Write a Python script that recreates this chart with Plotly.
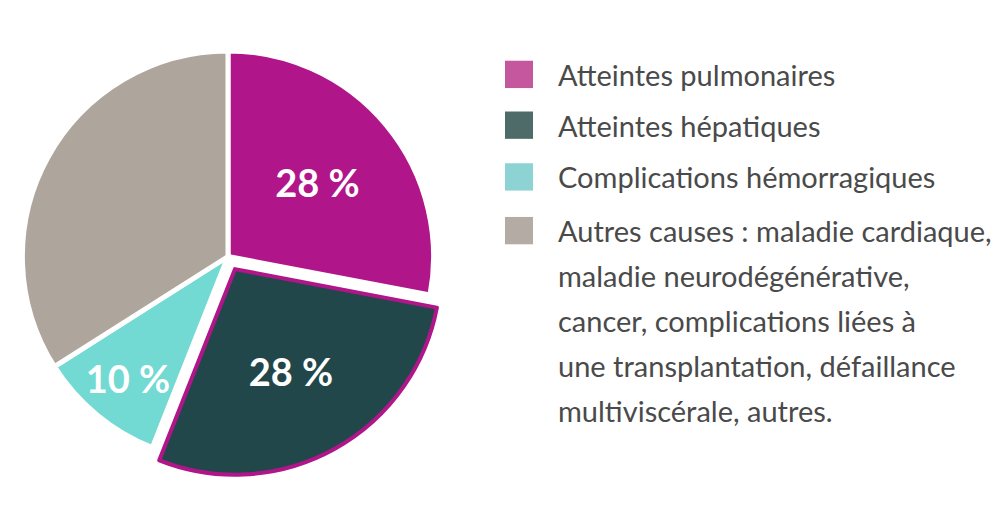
import plotly.graph_objects as go

labels = ["Atteintes pulmonaires", "Atteintes hépatiques", "Complications hémorragiques",
          "Autres causes : maladie cardiaque,"]
extra_lines = ["maladie neurodégénérative,", "cancer, complications liées à",
               "une transplantation, défaillance", "multiviscérale, autres."]
values = [28, 28, 10, 34]
slice_text = ["<b>28 %</b>", "<b>28 %</b>", "<b>10 %</b>", ""]
pie_colors = ["#B0168A", "#22474A", "#72D9D3", "#AEA59D"]
legend_colors = ["#C4579E", "#4E6B69", "#8ED3D3", "#B3ABA4"]
line_colors = ["white", "#B0168A", "white", "white"]
line_widths = [5, 4, 5, 5]
pulls = [0, 0.07, 0, 0]

fig = go.Figure(go.Pie(
    values=values, labels=labels, text=slice_text, textinfo="text",
    sort=False, direction="clockwise", rotation=0, pull=pulls,
    marker=dict(colors=pie_colors, line=dict(color=line_colors, width=line_widths)),
    insidetextfont=dict(family="Lato", size=38, color="white"),
    textposition="inside", insidetextorientation="horizontal",
    domain=dict(x=[0, 0.44], y=[0.0, 1.0]), showlegend=False, hoverinfo="label+percent"))

H = 509
def py(px):
    return 1 - px / H

ys = [68, 120, 173, 228]
shapes, anns = [], []
for i, (lab, c) in enumerate(zip(labels, legend_colors)):
    y = ys[i]
    shapes.append(dict(type="rect", xref="paper", yref="paper", x0=0.497, x1=0.525,
                       y0=py(y + 14), y1=py(y - 14), fillcolor=c, line=dict(width=0)))
    anns.append(dict(xref="paper", yref="paper", x=0.548, y=py(y), xanchor="left", yanchor="middle",
                     text=lab, showarrow=False, align="left",
                     font=dict(family="Lato", size=29, color="#4a4a4a")))
for j, t in enumerate(extra_lines):
    anns.append(dict(xref="paper", yref="paper", x=0.548, y=py(228 + 46 * (j + 1)), xanchor="left",
                     yanchor="middle", text=t, showarrow=False, align="left",
                     font=dict(family="Lato", size=29, color="#4a4a4a")))

fig.update_layout(width=1000, height=509, margin=dict(l=0, r=0, t=0, b=12),
                  paper_bgcolor="white", plot_bgcolor="white", shapes=shapes, annotations=anns)
fig.write_html("out.html")
